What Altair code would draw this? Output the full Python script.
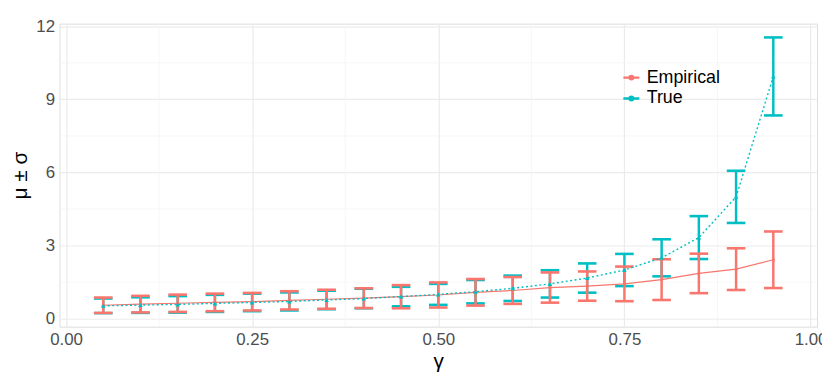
import altair as alt
import pandas as pd

gamma = [0.05, 0.10, 0.15, 0.20, 0.25, 0.30, 0.35, 0.40, 0.45, 0.50,
         0.55, 0.60, 0.65, 0.70, 0.75, 0.80, 0.85, 0.90, 0.95]
emp_mean = [0.555, 0.60, 0.635, 0.67, 0.70, 0.755, 0.80, 0.845, 0.905, 0.975,
            1.085, 1.16, 1.28, 1.34, 1.43, 1.605, 1.86, 2.035, 2.42]
emp_sd = [0.315, 0.34, 0.355, 0.36, 0.36, 0.375, 0.39, 0.405, 0.475, 0.515,
          0.545, 0.55, 0.62, 0.60, 0.71, 0.835, 0.81, 0.855, 1.16]
true_mean = [0.53, 0.56, 0.59, 0.63, 0.67, 0.71, 0.77, 0.83, 0.91, 1.00,
             1.11, 1.25, 1.43, 1.67, 2.00, 2.50, 3.33, 5.00, 9.94]
true_sd = [0.30, 0.32, 0.34, 0.35, 0.36, 0.37, 0.38, 0.40, 0.40, 0.43,
           0.48, 0.52, 0.56, 0.60, 0.66, 0.76, 0.88, 1.07, 1.60]
methods = ["Empirical", "True"]
colors = ["#F8766D", "#00BFC4"]

x_major = [0.0, 0.25, 0.50, 0.75, 1.0]
x_minor = [0.125, 0.375, 0.625, 0.875]
y_major = [0, 3, 6, 9, 12]
y_minor = [1.5, 4.5, 7.5, 10.5]

rows = []
for g, m, s in zip(gamma, emp_mean, emp_sd):
    rows.append({"gamma": g, "mean": m, "sd": s, "method": "Empirical"})
for g, m, s in zip(gamma, true_mean, true_sd):
    rows.append({"gamma": g, "mean": m, "sd": s, "method": "True"})
df = pd.DataFrame(rows)

FONT = "Liberation Sans"
xscale = alt.Scale(domain=[-0.00875, 1.00875], nice=False, zero=False)
yscale = alt.Scale(domain=[-0.325, 12.105], nice=False, zero=False)
cscale = alt.Scale(domain=methods, range=colors)

xax = alt.Axis(values=x_major, format=".2f", title="γ", grid=True,
               gridColor="#EBEBEB", gridWidth=1.2, domain=False, ticks=False,
               labelFontSize=17, labelColor="#4D4D4D", labelFont=FONT,
               labelPadding=5, titleFontSize=21, titleFont=FONT,
               titleFontWeight="normal", titleColor="black", titlePadding=3)
yax = alt.Axis(values=y_major, format="d", title="μ ± σ", grid=True,
               gridColor="#EBEBEB", gridWidth=1.2, domain=False, ticks=False,
               labelFontSize=17, labelColor="#4D4D4D", labelFont=FONT,
               labelPadding=5, titleFontSize=21, titleFont=FONT,
               titleFontWeight="normal", titleColor="black", titlePadding=5)

X = lambda f: alt.X(f, scale=xscale, axis=xax)
Y = lambda f: alt.Y(f, scale=yscale, axis=yax)

minor_x = alt.Chart(pd.DataFrame({"v": x_minor})).mark_rule(
    color="#F3F3F3", strokeWidth=0.8).encode(x=X("v:Q"))
minor_y = alt.Chart(pd.DataFrame({"v": y_minor})).mark_rule(
    color="#F3F3F3", strokeWidth=0.8).encode(y=Y("v:Q"))


def subset(method):
    return alt.Chart(df).transform_filter(alt.datum.method == method)


def errorbars(method, color):
    b = subset(method).transform_calculate(
        lo="datum.mean - datum.sd",
        hi="datum.mean + datum.sd",
        xl="datum.gamma - 0.0125",
        xr="datum.gamma + 0.0125",
    )
    v = b.mark_rule(strokeWidth=2.5, color=color).encode(
        x=X("gamma:Q"), y=Y("lo:Q"), y2="hi:Q")
    t = b.mark_rule(strokeWidth=2.6, color=color).encode(
        x=X("xl:Q"), x2="xr:Q", y=Y("hi:Q"))
    lo = b.mark_rule(strokeWidth=2.6, color=color).encode(
        x=X("xl:Q"), x2="xr:Q", y=Y("lo:Q"))
    return [v, t, lo]


def pts(method, color, shape, size):
    return subset(method).mark_point(
        filled=True, opacity=1, color=color, shape=shape, size=size
    ).encode(x=X("gamma:Q"), y=Y("mean:Q"))


sym = "M-1,0H1M0.22,0A0.22,0.22,0,1,1,-0.22,0A0.22,0.22,0,1,1,0.22,0"
line_emp = subset("Empirical").mark_line(strokeWidth=1.2).encode(
    x=X("gamma:Q"),
    y=Y("mean:Q"),
    color=alt.Color("method:N", scale=cscale, legend=alt.Legend(
        title=None, orient="none", legendX=568, legendY=45, padding=0,
        symbolType=sym, symbolSize=260, symbolStrokeWidth=2.5,
        labelFontSize=18, labelFont=FONT, labelColor="black",
        labelOffset=6, rowPadding=2)),
)
line_true = subset("True").mark_line(
    strokeWidth=1.4, color=colors[1], strokeDash=[2, 2.5]
).encode(x=X("gamma:Q"), y=Y("mean:Q"))

layers = [minor_x, minor_y]
layers += errorbars("True", colors[1])
layers += errorbars("Empirical", colors[0])
layers += [line_emp, line_true,
           pts("Empirical", colors[0], "circle", 10),
           pts("True", colors[1], "triangle-up", 22)]

chart = alt.layer(*layers).properties(
    width=765, height=306,
    autosize=alt.AutoSizeParams(type="none"),
    padding={"left": 52, "top": 14, "right": 5, "bottom": 48},
).configure_view(stroke=None).configure(background="white")

chart.save("out.html", embed_options={"renderer": "svg", "actions": False})
